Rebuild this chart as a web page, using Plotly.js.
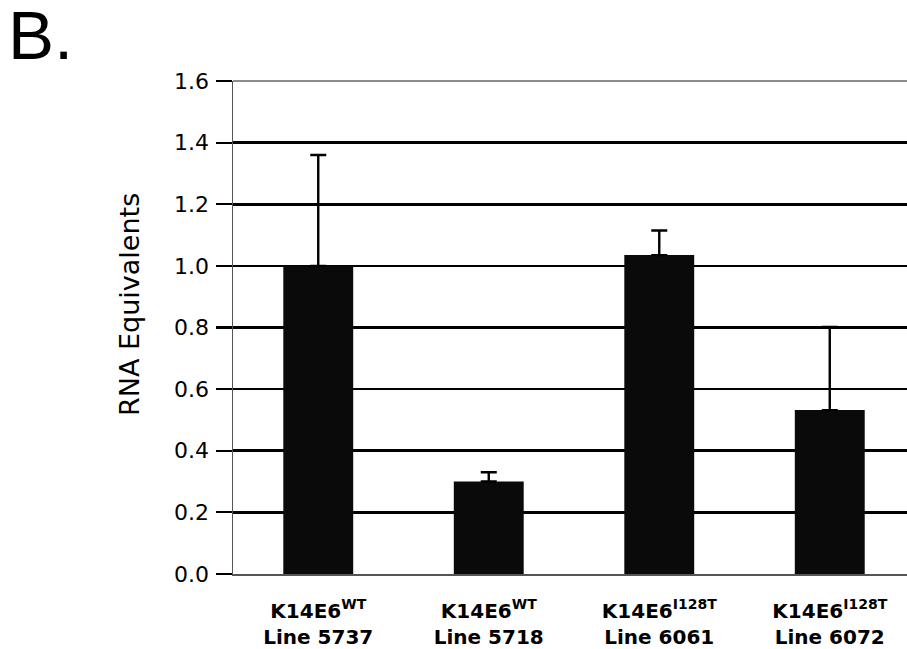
<!DOCTYPE html>
<html>
<head>
<meta charset="utf-8">
<script src="https://cdn.plot.ly/plotly-3.0.1.min.js"></script>
<style>
html,body{margin:0;padding:0;background:#fff;}
#chart{width:907px;height:649px;}
</style>
</head>
<body>
<div id="chart"></div>
<script>
// Data
const categories = [
  "K14E6<sup>WT</sup><br>Line 5737",
  "K14E6<sup>WT</sup><br>Line 5718",
  "K14E6<sup>I128T</sup><br>Line 6061",
  "K14E6<sup>I128T</sup><br>Line 6072"
];
const rnaEquivalents = [1.00, 0.30, 1.035, 0.532];
const errorPlus = [0.36, 0.03, 0.08, 0.27];
const yTickValues = [0, 0.2, 0.4, 0.6, 0.8, 1.0, 1.2, 1.4, 1.6];
const yTickLabels = ["0.0", "0.2", "0.4", "0.6", "0.8", "1.0", "1.2", "1.4", "1.6"];
const yTitle = "RNA Equivalents";
const panelLabel = "B.";

const trace = {
  type: "bar",
  x: categories,
  y: rnaEquivalents,
  marker: {color: "#0a0a0a", line: {width: 0}},
  error_y: {
    type: "data",
    symmetric: false,
    array: errorPlus,
    arrayminus: errorPlus.map(() => 0),
    color: "#000",
    thickness: 2.4,
    width: 8
  },
  hoverinfo: "none"
};

const layout = {
  width: 907,
  height: 649,
  margin: {l: 233, r: 0, t: 81, b: 75},
  paper_bgcolor: "#fff",
  plot_bgcolor: "#fff",
  showlegend: false,
  bargap: 0.59,
  xaxis: {
    type: "category",
    range: [-0.5, 3.453],
    showgrid: false,
    showline: true,
    linecolor: "#555",
    linewidth: 1.5,
    ticks: "",
    tickfont: {family: "DejaVu Sans", size: 20, color: "#000", weight: "bold"},
    ticklabelstandoff: 18,
    fixedrange: true
  },
  yaxis: {
    range: [0, 1.6],
    tickvals: yTickValues,
    ticktext: yTickLabels,
    showgrid: true,
    gridcolor: "#000",
    gridwidth: 2.6,
    zeroline: false,
    showline: true,
    linecolor: "#555",
    linewidth: 1.5,
    ticks: "outside",
    ticklen: 16,
    tickwidth: 2.2,
    tickcolor: "#000",
    ticklabelstandoff: 2,
    tickfont: {family: "DejaVu Sans", size: 22, color: "#000"},
    fixedrange: true
  },
  shapes: [
    {type: "line", xref: "paper", yref: "paper", x0: 0, x1: 1, y0: 1, y1: 1,
     line: {color: "#666", width: 1.5}}
  ],
  annotations: [
    {
      text: panelLabel,
      xref: "paper", yref: "paper",
      x: (6 - 233) / 674, y: (574 - 36) / 493,
      xanchor: "left", yanchor: "middle",
      showarrow: false,
      font: {family: "Liberation Sans", size: 69, color: "#000"}
    },
    {
      text: yTitle,
      xref: "paper", yref: "paper",
      x: (129 - 233) / 674, y: (574 - 305) / 493,
      xanchor: "center", yanchor: "middle",
      textangle: -90,
      showarrow: false,
      font: {family: "DejaVu Sans", size: 27, color: "#000"}
    }
  ]
};

Plotly.newPlot("chart", [trace], layout, {displayModeBar: false, staticPlot: true});
</script>
</body>
</html>
